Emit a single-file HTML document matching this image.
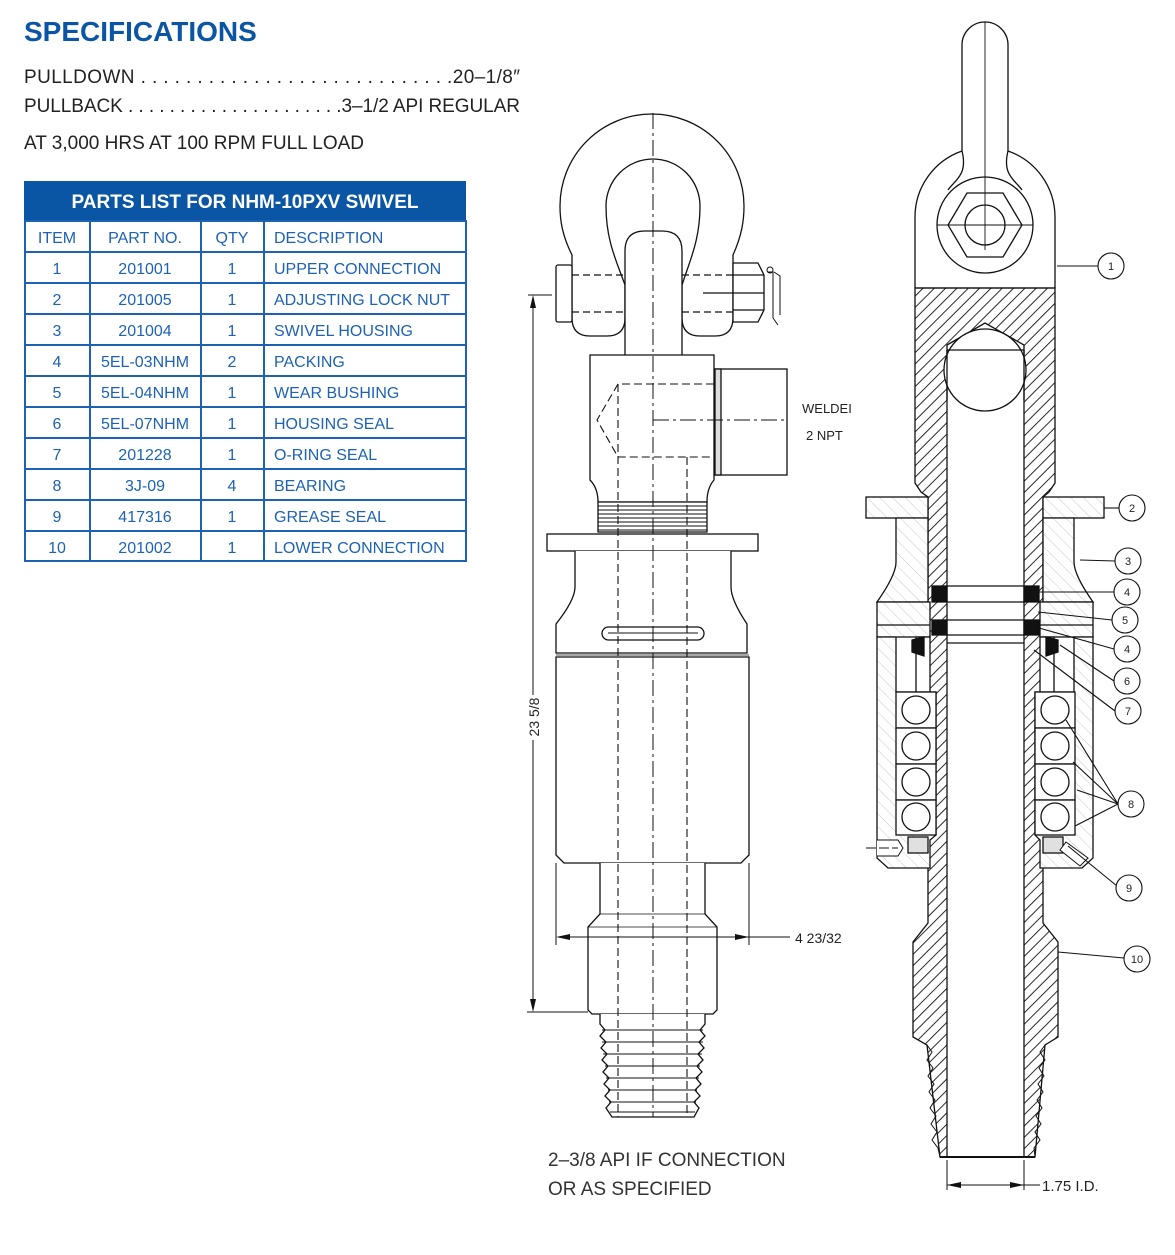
<!DOCTYPE html>
<html><head><meta charset="utf-8">
<style>
html,body{margin:0;padding:0;background:#fff;}
body{width:1175px;height:1250px;overflow:hidden;font-family:"Liberation Sans",sans-serif;}
</style></head>
<body>
<svg width="1175" height="1250" viewBox="0 0 1175 1250" xmlns="http://www.w3.org/2000/svg" font-family="Liberation Sans, sans-serif">
<defs>
<pattern id="h" patternUnits="userSpaceOnUse" width="8" height="8" patternTransform="rotate(45)">
<rect width="8" height="8" fill="#fff"/><line x1="0" y1="0" x2="0" y2="8" stroke="#111" stroke-width="1.8"/></pattern>
<pattern id="hl" patternUnits="userSpaceOnUse" width="9" height="9" patternTransform="rotate(-45)">
<rect width="9" height="9" fill="#fff"/><line x1="0" y1="0" x2="0" y2="9" stroke="#bbb" stroke-width="0.8"/></pattern>
</defs>

<!-- Header -->
<text x="24" y="41" font-size="28" font-weight="bold" fill="#0b55a5">SPECIFICATIONS</text>
<g font-size="19" fill="#222">
<text x="24" y="83" textLength="496" lengthAdjust="spacing">PULLDOWN . . . . . . . . . . . . . . . . . . . . . . . . . . . .20–1/8″</text>
<text x="24" y="112" textLength="496" lengthAdjust="spacing">PULLBACK  . . . . . . . . . . . . . . . . . . . . .3–1/2 API REGULAR</text>
<text x="24" y="149">AT 3,000 HRS AT 100 RPM FULL LOAD</text>
</g>

<!-- Table -->
<rect x="24" y="181" width="442" height="40" fill="#0b55a5"/>
<text x="245" y="208" font-size="19" font-weight="bold" fill="#fff" text-anchor="middle">PARTS LIST FOR NHM-10PXV SWIVEL</text>
<g stroke="#1d62b5" stroke-width="2" fill="none">
<rect x="25" y="221" width="441" height="340"/>
<line x1="90" y1="221" x2="90" y2="561"/><line x1="201" y1="221" x2="201" y2="561"/><line x1="264" y1="221" x2="264" y2="561"/>
<line x1="25" y1="252" x2="466" y2="252"/><line x1="25" y1="283" x2="466" y2="283"/><line x1="25" y1="314" x2="466" y2="314"/>
<line x1="25" y1="345" x2="466" y2="345"/><line x1="25" y1="376" x2="466" y2="376"/><line x1="25" y1="407" x2="466" y2="407"/>
<line x1="25" y1="438" x2="466" y2="438"/><line x1="25" y1="469" x2="466" y2="469"/><line x1="25" y1="500" x2="466" y2="500"/>
<line x1="25" y1="531" x2="466" y2="531"/>
</g>
<g font-size="16" fill="#1d62b5">
<g text-anchor="middle">
<text x="57" y="243">ITEM</text><text x="145" y="243">PART NO.</text><text x="232" y="243">QTY</text>
<text x="57" y="274">1</text><text x="145" y="274">201001</text><text x="232" y="274">1</text>
<text x="57" y="305">2</text><text x="145" y="305">201005</text><text x="232" y="305">1</text>
<text x="57" y="336">3</text><text x="145" y="336">201004</text><text x="232" y="336">1</text>
<text x="57" y="367">4</text><text x="145" y="367">5EL-03NHM</text><text x="232" y="367">2</text>
<text x="57" y="398">5</text><text x="145" y="398">5EL-04NHM</text><text x="232" y="398">1</text>
<text x="57" y="429">6</text><text x="145" y="429">5EL-07NHM</text><text x="232" y="429">1</text>
<text x="57" y="460">7</text><text x="145" y="460">201228</text><text x="232" y="460">1</text>
<text x="57" y="491">8</text><text x="145" y="491">3J-09</text><text x="232" y="491">4</text>
<text x="57" y="522">9</text><text x="145" y="522">417316</text><text x="232" y="522">1</text>
<text x="57" y="553">10</text><text x="145" y="553">201002</text><text x="232" y="553">1</text>
</g>
<text x="274" y="243">DESCRIPTION</text>
<text x="274" y="274">UPPER CONNECTION</text>
<text x="274" y="305">ADJUSTING LOCK NUT</text>
<text x="274" y="336">SWIVEL HOUSING</text>
<text x="274" y="367">PACKING</text>
<text x="274" y="398">WEAR BUSHING</text>
<text x="274" y="429">HOUSING SEAL</text>
<text x="274" y="460">O-RING SEAL</text>
<text x="274" y="491">BEARING</text>
<text x="274" y="522">GREASE SEAL</text>
<text x="274" y="553">LOWER CONNECTION</text>
</g>

<!-- LEFT DRAWING -->
<g stroke="#111" stroke-width="1.3" fill="none">
<path d="M590,336 Q572,336 572,318 L572,255 C562,235 560,220 560,206 A92,92 0 0 1 744,206 C744,220 742,235 733,255 L733,318 Q733,336 715,336 L700,336 Q682,336 682,318 L682,285 C690,260 700,240 700,206 A47,47 0 0 0 606,206 C606,240 616,260 625,285 L625,318 Q625,336 607,336 Z" fill="#fff"/>
<rect x="556" y="265" width="16" height="57" rx="2" fill="#fff"/>
<path d="M733,263 L758,263 L764,275 L764,310 L758,322 L733,322 Z" fill="#fff"/>
<line x1="733" y1="275" x2="764" y2="275"/><line x1="733" y1="310" x2="764" y2="310"/>
<line x1="703" y1="293" x2="764" y2="293"/>
<path d="M768,272 L773,272 L773,318 L778,325 M774,272 L780,276 L780,315" stroke-width="1"/>
<circle cx="770" cy="270" r="3" stroke-width="1"/>
<line x1="572" y1="275" x2="733" y2="275" stroke-dasharray="7,4"/>
<line x1="572" y1="312" x2="733" y2="312" stroke-dasharray="7,4"/>
<path d="M625,355 L625,251 Q625,231 645,231 L662,231 Q682,231 682,251 L682,355" fill="#fff"/>
<path d="M590,355 L714,355 L714,480 Q707,488 707,502 L598,502 Q598,488 590,480 Z" fill="#fff"/>
<rect x="715" y="369" width="72" height="106" fill="#fff"/>
<rect x="715" y="369" width="6" height="106" fill="#ddd"/>
<path d="M598,502 L707,502 L707,532 L598,532 Z" fill="#fff"/>
<path d="M598,506H707M598,510H707M598,514H707M598,518H707M598,522H707M598,526H707M598,530H707" stroke-width="1"/>
<rect x="547" y="534" width="211" height="17" fill="#fff"/>
<path d="M575,551 L575,587 Q575,600 556,624 L556,653 L747,653 L747,624 Q731,600 731,587 L731,551" fill="#fff"/>
<rect x="602" y="627" width="102" height="13" rx="6.5"/>
<line x1="608" y1="633" x2="698" y2="633" stroke-width="1"/>
<path d="M556,657 L749,657 L749,855 L741,863 L564,863 L556,855 Z" fill="#fff"/>
<line x1="556" y1="655" x2="749" y2="655" stroke-width="0.8"/>
<path d="M600,863 L600,914 L588,927 L588,1010 L592,1014 L713,1014 L717,1010 L717,927 L705,914 L705,863" fill="#fff"/>
<line x1="600" y1="914" x2="705" y2="914" stroke-width="0.8"/>
<line x1="588" y1="927" x2="717" y2="927" stroke-width="0.8"/>
<path d="M600,1014 L600,1024 L605,1030 L600,1036 L606,1042 L601,1048 L607,1054 L602,1060 L608,1066 L603,1072 L609,1078 L604,1084 L610,1090 L605,1096 L611,1102 L606,1108 L612,1117 L694,1117 L699,1108 L694,1102 L700,1096 L695,1090 L701,1084 L696,1078 L702,1072 L697,1066 L703,1060 L698,1054 L704,1048 L699,1042 L705,1036 L700,1030 L705,1024 L705,1014" fill="#fff"/>
<path d="M602,1030H703M602,1042H703M603,1054H702M605,1066H700M606,1078H699M608,1090H697M609,1102H696M610,1112H695" stroke-width="0.9"/>
<g stroke-dasharray="8,4" stroke-width="1.1">
<path d="M714,384 L618,384 L597,420 L618,457 L714,457"/>
<line x1="618" y1="384" x2="618" y2="1117"/>
<line x1="687" y1="457" x2="687" y2="1117"/>
</g>
<line x1="653" y1="113" x2="653" y2="1117" stroke-dasharray="16,4,3,4" stroke-width="1"/>
<line x1="653" y1="420" x2="787" y2="420" stroke-dasharray="16,4,3,4" stroke-width="1"/>
<line x1="528" y1="295" x2="552" y2="295" stroke-width="1"/>
<line x1="527" y1="1012" x2="588" y2="1012" stroke-width="1"/>
<line x1="533" y1="303" x2="533" y2="695" stroke-width="1"/>
<line x1="533" y1="740" x2="533" y2="1004" stroke-width="1"/>
<line x1="556" y1="863" x2="556" y2="945" stroke-width="1"/>
<line x1="749" y1="863" x2="749" y2="945" stroke-width="1"/>
<line x1="564" y1="937" x2="790" y2="937" stroke-width="1"/>
</g>
<g fill="#111">
<path d="M533,295 L530,308 L536,308 Z"/><path d="M533,1012 L530,999 L536,999 Z"/>
<path d="M556,937 L570,934 L570,940 Z"/><path d="M749,937 L735,934 L735,940 Z"/>
</g>
<text x="539" y="717" font-size="14" fill="#222" transform="rotate(-90 539 717)" text-anchor="middle">23 5/8</text>
<text x="795" y="943" font-size="14" fill="#222">4 23/32</text>
<text x="802" y="413" font-size="13" fill="#222">WELDEI</text>
<text x="806" y="440" font-size="13" fill="#222">2 NPT</text>
<text x="548" y="1166" font-size="19" fill="#333">2–3/8 API IF CONNECTION</text>
<text x="548" y="1195" font-size="19" fill="#333">OR AS SPECIFIED</text>

<!-- RIGHT DRAWING -->
<g stroke="#111" stroke-width="1.3">
<path d="M962,160 L962,45 A23,23 0 0 1 1008,45 L1008,160" fill="#fff"/>
<path d="M915,288 L915,217 A70,70 0 0 1 962,151 C968,175 955,180 948,190 M1055,288 L1055,217 A70,70 0 0 0 1008,151 C1002,175 1015,180 1022,190" fill="#fff"/>
<circle cx="985" cy="225" r="48" fill="#fff"/>
<path d="M967,193 L1003,193 L1022,225 L1003,257 L967,257 L948,225 Z" fill="#fff"/>
<circle cx="985" cy="225" r="20" fill="#fff"/>
<line x1="985" y1="22" x2="985" y2="250" stroke-width="0.9"/>
<line x1="937" y1="225" x2="1033" y2="225" stroke-width="0.9"/>
<path fill-rule="evenodd" fill="url(#h)" d="M915,288 L1055,288 L1055,483 L1049,492 L1043,497 L1043,923 L1058,942 L1058,1037 L1045,1045 L1035,1157 L940,1157 L927,1045 L913,1037 L913,942 L928,923 L928,497 L921,492 L915,483 Z M947,345 L985,323 L1024,345 L1024,1157 L947,1157 Z"/>
<circle cx="985" cy="370" r="41" fill="#fff"/>
<line x1="947" y1="350" x2="1024" y2="350"/>
<line x1="947" y1="350" x2="947" y2="400"/><line x1="1024" y1="350" x2="1024" y2="400"/>
<line x1="915" y1="288" x2="1055" y2="288"/>
<path d="M940,1157 L1035,1157" stroke-width="2"/>
<path d="M927,1045 L932,1052 L927,1060 L933,1068 L928,1076 L934,1084 L929,1092 L935,1100 L930,1108 L936,1116 L931,1124 L937,1132 L932,1140 L938,1148 L940,1157" fill="none" stroke-width="1"/>
<path d="M1045,1045 L1040,1052 L1045,1060 L1039,1068 L1044,1076 L1038,1084 L1043,1092 L1037,1100 L1042,1108 L1036,1116 L1041,1124 L1035,1132 L1040,1140 L1034,1148 L1035,1157" fill="none" stroke-width="1"/>
<rect x="866" y="497" width="62" height="21" fill="url(#hl)"/>
<rect x="1043" y="497" width="61" height="21" fill="url(#hl)"/>
<path d="M896,518 L928,518 L928,602 L877,602 Q896,575 896,562 Z" fill="url(#hl)"/>
<path d="M1074,518 L1043,518 L1043,602 L1093,602 Q1074,575 1074,562 Z" fill="url(#hl)"/>
<rect x="877" y="602" width="53" height="35" fill="url(#hl)"/>
<rect x="1040" y="602" width="53" height="35" fill="url(#hl)"/>
<line x1="877" y1="625" x2="930" y2="625"/><line x1="1040" y1="625" x2="1093" y2="625"/>
<path d="M877,637 L896,637 L896,692 L936,692 L936,835 L930,840 L930,868 L888,868 L877,858 Z" fill="url(#hl)"/>
<path d="M1093,637 L1074,637 L1074,692 L1035,692 L1035,835 L1040,840 L1040,868 L1082,868 L1093,858 Z" fill="url(#hl)"/>
<rect x="916" y="637" width="14" height="55" fill="#fff"/>
<rect x="1040" y="637" width="14" height="55" fill="#fff"/>
<line x1="947" y1="586" x2="1024" y2="586"/><line x1="947" y1="602" x2="1024" y2="602"/>
<line x1="947" y1="620" x2="1024" y2="620"/><line x1="947" y1="635" x2="1024" y2="635"/>
<line x1="947" y1="643" x2="1024" y2="643"/>
<rect x="932" y="586" width="15" height="16" fill="#111"/><rect x="1024" y="586" width="15" height="16" fill="#111"/>
<rect x="932" y="620" width="15" height="15" fill="#111"/><rect x="1024" y="620" width="15" height="15" fill="#111"/>
<path d="M912,640 L924,637 L924,656 L912,652 Z M1058,640 L1046,637 L1046,656 L1058,652 Z" fill="#111"/>
<g fill="#fff">
<rect x="896" y="692" width="40" height="36"/><rect x="896" y="728" width="40" height="36"/>
<rect x="896" y="764" width="40" height="36"/><rect x="896" y="800" width="40" height="35"/>
<rect x="1035" y="692" width="40" height="36"/><rect x="1035" y="728" width="40" height="36"/>
<rect x="1035" y="764" width="40" height="36"/><rect x="1035" y="800" width="40" height="35"/>
<circle cx="916" cy="710" r="14"/><circle cx="916" cy="746" r="14"/><circle cx="916" cy="782" r="14"/><circle cx="916" cy="817" r="14"/>
<circle cx="1055" cy="710" r="14"/><circle cx="1055" cy="746" r="14"/><circle cx="1055" cy="782" r="14"/><circle cx="1055" cy="817" r="14"/>
</g>
<rect x="908" y="837" width="20" height="16" fill="#e0e0e0"/>
<rect x="1043" y="837" width="20" height="16" fill="#e0e0e0"/>
<path d="M877,840 L898,840 L903,848 L898,856 L877,856" fill="#fff" stroke-width="1"/>
<line x1="866" y1="848" x2="898" y2="848" stroke-width="1" stroke-dasharray="10,3"/>
<path d="M1066,842 L1088,858 L1080,866 L1060,850 Z" fill="#fff" stroke-width="1"/>
<line x1="947" y1="1160" x2="947" y2="1190" stroke-width="1"/>
<line x1="1024" y1="1160" x2="1024" y2="1190" stroke-width="1"/>
<line x1="947" y1="1185" x2="1040" y2="1185" stroke-width="1"/>
</g>
<path d="M947,1185 L961,1182 L961,1188 Z M1024,1185 L1010,1182 L1010,1188 Z" fill="#111"/>
<text x="1042" y="1191" font-size="15" fill="#222">1.75 I.D.</text>

<g stroke="#111" stroke-width="1.1" fill="none">
<line x1="1057" y1="266" x2="1098" y2="266"/>
<line x1="1104" y1="508" x2="1119" y2="508"/>
<line x1="1080" y1="560" x2="1115" y2="561"/>
<line x1="1039" y1="592" x2="1114" y2="592"/>
<line x1="1038" y1="612" x2="1112" y2="620"/>
<line x1="1039" y1="628" x2="1114" y2="649"/>
<line x1="1060" y1="645" x2="1114" y2="681"/>
<line x1="1034" y1="650" x2="1115" y2="711"/>
<line x1="1066" y1="720" x2="1118" y2="804"/><line x1="1073" y1="762" x2="1118" y2="804"/>
<line x1="1077" y1="790" x2="1118" y2="804"/><line x1="1075" y1="826" x2="1118" y2="804"/>
<line x1="1068" y1="846" x2="1117" y2="886"/>
<line x1="1058" y1="952" x2="1124" y2="958"/>
<g fill="#fff">
<circle cx="1111" cy="266" r="13"/><circle cx="1132" cy="508" r="13"/><circle cx="1128" cy="561" r="13"/>
<circle cx="1127" cy="592" r="13"/><circle cx="1125" cy="620" r="13"/><circle cx="1127" cy="649" r="13"/>
<circle cx="1127" cy="681" r="13"/><circle cx="1128" cy="711" r="13"/><circle cx="1131" cy="804" r="13"/>
<circle cx="1129" cy="888" r="13"/><circle cx="1137" cy="959" r="13"/>
</g>
</g>
<g font-size="11" fill="#222" text-anchor="middle">
<text x="1111" y="270">1</text><text x="1132" y="512">2</text><text x="1128" y="565">3</text>
<text x="1127" y="596">4</text><text x="1125" y="624">5</text><text x="1127" y="653">4</text>
<text x="1127" y="685">6</text><text x="1128" y="715">7</text><text x="1131" y="808">8</text>
<text x="1129" y="892">9</text><text x="1137" y="963">10</text>
</g>
</svg>
</body></html>
